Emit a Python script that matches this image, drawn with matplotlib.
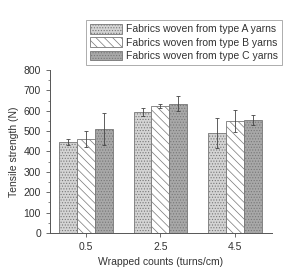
import numpy as np
import matplotlib.pyplot as plt

plt.rcParams['font.family'] = ['Liberation Sans', 'DejaVu Sans']
plt.rcParams['hatch.linewidth'] = 0.5

# Datos
counts = [0.5, 2.5, 4.5]
tick_labels = ['0.5', '2.5', '4.5']
labels = ['Fabrics woven from type A yarns',
          'Fabrics woven from type B yarns',
          'Fabrics woven from type C yarns']
strength_a = [445, 595, 490]
strength_b = [460, 625, 550]
strength_c = [510, 635, 555]
err_a = [15, 20, 75]
err_b = [40, 10, 55]
err_c = [80, 35, 25]

fig = plt.figure(figsize=(2.94, 2.68), dpi=100)
ax = fig.add_axes([0.17, 0.131, 0.755, 0.608])

x = np.array(counts)
w = 0.48
estilos = [('#d4d4d4', '......'), ('white', '\\\\\\\\'), ('#a8a8a8', '......')]
series = [(strength_a, err_a), (strength_b, err_b), (strength_c, err_c)]
for i, ((vals, errs), (col, hat), lab) in enumerate(zip(series, estilos, labels)):
    ax.bar(x + (i - 1) * w, vals, width=w, color=col, hatch=hat,
           edgecolor='#777777', linewidth=0.6, label=lab,
           yerr=errs, capsize=1.5,
           error_kw=dict(ecolor='#444444', elinewidth=0.6, capthick=0.6))

ax.set_xlim(-0.47, 5.5)
ax.set_ylim(0, 800)
ax.set_xticks(counts)
ax.set_xticklabels(tick_labels)
ax.set_yticks(range(0, 801, 100))
ax.set_yticks(range(0, 801, 50), minor=True)
ax.spines['top'].set_visible(False)
ax.spines['right'].set_visible(False)
for s in ['left', 'bottom']:
    ax.spines[s].set_color('#555555')
    ax.spines[s].set_linewidth(0.7)
ax.tick_params(axis='both', labelsize=7.5, colors='#555555', labelcolor='#333333',
               length=3, width=0.6)
ax.tick_params(axis='y', which='minor', length=1.5, width=0.5, colors='#555555')
ax.set_xlabel('Wrapped counts (turns/cm)', fontsize=7.5, color='#333333', labelpad=4)
ax.set_ylabel('Tensile strength (N)', fontsize=7.5, color='#333333', labelpad=3)

leg = fig.legend(loc='upper left', bbox_to_anchor=(0.293, 0.925), fontsize=7.5,
                 frameon=True, fancybox=False, edgecolor='#888888',
                 handlelength=3.0, handleheight=1.0, labelspacing=0.28,
                 borderpad=0.4, handletextpad=0.4, borderaxespad=0)
leg.get_frame().set_linewidth(0.6)
for t in leg.get_texts():
    t.set_color('#333333')

fig.savefig('out.png', dpi=100)
